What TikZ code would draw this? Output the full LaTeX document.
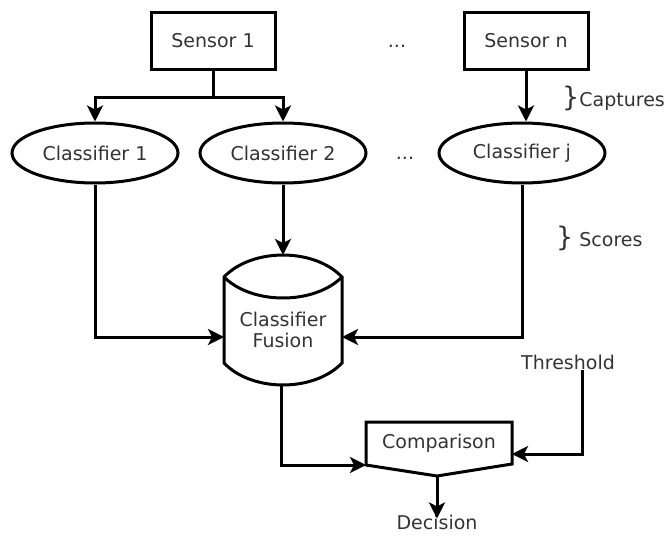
\documentclass[tikz,border=0pt]{standalone}
\usepackage{fontspec}
\setmainfont{DejaVu Sans}
\usetikzlibrary{arrows.meta,shapes.geometric}
\newcommand{\tallbrace}{{\fontsize{27}{27}\selectfont\}}}
\begin{document}
\begin{tikzpicture}[x=1pt,y=-1pt]
\tikzset{
  lbl/.style={font=\fontsize{19}{21}\selectfont, text=black!80, inner sep=0pt},
  boxnode/.style={lbl, draw=black, line width=3pt, minimum width=124pt, minimum height=56pt},
  ovalnode/.style={lbl, draw=black, ellipse, line width=3pt, minimum width=166pt, minimum height=60pt},
  wire/.style={line width=3pt, line join=miter},
  link/.style={wire, -{Stealth[length=16pt,width=16pt,inset=4pt]}}
}
\useasboundingbox (0,0) rectangle (666,535);

% sensors
\node[boxnode] (s1) at (213,41) {Sensor 1};
\node[boxnode] (sn) at (526,41) {Sensor n};
\node[lbl] (dots1) at (397,46) {...};

% classifiers
\node[ovalnode] (c1) at (95,153) {Classifier 1};
\node[ovalnode] (c2) at (283,153) {Classifier 2};
\node[ovalnode] (cj) at (522,153) {Classifier j};
\node[lbl] (dots2) at (405,158) {...};

% side annotations
\node[lbl, anchor=west] (cap) at (562,98) {\tallbrace Captures};
\node[lbl, anchor=west] (sco) at (556,238) {\tallbrace\ Scores};

% fusion cylinder
\draw[wire] (224,277) .. controls (252,247.7) and (314,247.7) .. (342,277)
  -- (342,363) .. controls (314,392.3) and (252,392.3) .. (224,363) -- cycle;
\draw[wire] (224,277) .. controls (252,305) and (314,305) .. (342,277);
\node[lbl, align=center] (fus) at (283,330) {Classifier\\Fusion};
\coordinate (fusN) at (283,255);
\coordinate (fusW) at (224,337);
\coordinate (fusE) at (342,337);
\coordinate (fusS) at (281,385);

% comparison block
\draw[wire] (366,422) -- (512,422) -- (512,464) -- (437,476) -- (366,465) -- cycle;
\node[lbl] (cmp) at (439,443) {Comparison};
\coordinate (cmpW) at (366,465);
\coordinate (cmpE) at (512,454);
\coordinate (cmpS) at (437,476);

\node[lbl] (thr) at (568,362) {Threshold};
\node[lbl] (dec) at (437,522) {Decision};

% connectors
\draw[wire] (s1.south) -- ++(0,27) coordinate (split);
\draw[link] (split) -| (c1.north);
\draw[link] (split) -| (c2.north);
\draw[link] (sn.south) -- (sn.south |- cj.north);
\draw[link] (c1.south) |- (fusW);
\draw[link] (c2.south) -- (fusN);
\draw[link] (cj.south) |- (fusE);
\draw[link] (fusS) |- (cmpW);
\draw[link] ([xshift=14pt]thr.south) |- (cmpE);
\draw[link] (cmpS) -- ([yshift=-4pt]dec.north);
\end{tikzpicture}
\end{document}
